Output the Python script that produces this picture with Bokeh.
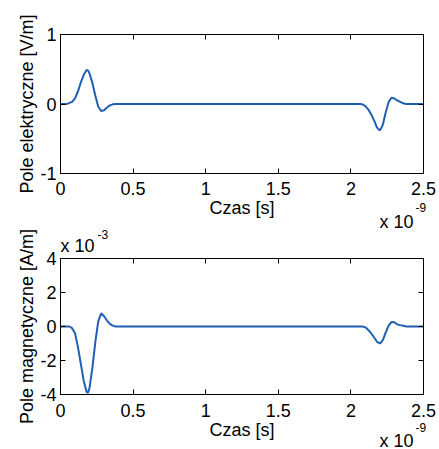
from bokeh.plotting import figure
from bokeh.models import LinearAxis, FixedTicker, Range1d, Label
from bokeh.layouts import column
from bokeh.embed import file_html
from bokeh.resources import INLINE

# time in units of 1e-9 s
t_e = [0.0, 0.03, 0.05, 0.08, 0.10, 0.12, 0.14, 0.16, 0.18, 0.19, 0.20, 0.22, 0.24, 0.26,
       0.28, 0.30, 0.32, 0.34, 0.36, 0.38, 1.0, 1.5, 2.06, 2.08, 2.10, 2.12, 2.14, 2.16,
       2.18, 2.20, 2.22, 2.24, 2.26, 2.28, 2.30, 2.32, 2.34, 2.36, 2.38, 2.5]
# electric field, V/m
e_field = [0.0, 0.0, 0.005, 0.03, 0.08, 0.18, 0.31, 0.42, 0.49, 0.48, 0.44, 0.30, 0.12, -0.04,
           -0.10, -0.09, -0.05, -0.02, -0.005, 0.0, 0.0, 0.0, 0.0, -0.005, -0.03, -0.08, -0.15, -0.24,
           -0.34, -0.38, -0.30, -0.12, 0.03, 0.09, 0.08, 0.05, 0.03, 0.01, 0.0, 0.0]

t_h = [0.0, 0.06, 0.08, 0.10, 0.12, 0.14, 0.16, 0.18, 0.19, 0.20, 0.22, 0.24, 0.26, 0.28,
       0.30, 0.32, 0.34, 0.36, 0.38, 1.0, 1.5, 2.08, 2.10, 2.12, 2.14, 2.16, 2.18, 2.20,
       2.22, 2.24, 2.26, 2.28, 2.30, 2.32, 2.34, 2.36, 2.38, 2.5]
# magnetic field, units of 1e-3 A/m
h_field = [0.0, 0.0, -0.1, -0.4, -1.2, -2.2, -3.2, -3.85, -3.9, -3.6, -2.4, -0.9, 0.3, 0.78,
           0.6, 0.35, 0.15, 0.05, 0.0, 0.0, 0.0, 0.0, -0.05, -0.2, -0.4, -0.65, -0.9, -1.0,
           -0.8, -0.35, 0.05, 0.27, 0.25, 0.12, 0.08, 0.05, 0.0, 0.0]

x_ticks = [0, 0.5, 1, 1.5, 2, 2.5]
x_tick_labels = ["0", "0.5", "1", "1.5", "2", "2.5"]
e_ticks = [-1, 0, 1]
e_tick_labels = ["-1", "0", "1"]
h_ticks = [-4, -2, 0, 2, 4]
h_tick_labels = ["-4", "-2", "0", "2", "4"]

FONT = "Liberation Sans"
LINE = "#1f5fb4"


def style_axis(ax, ticks, labels=None, show_labels=True):
    ax.ticker = FixedTicker(ticks=ticks)
    ax.major_tick_in = 5
    ax.major_tick_out = 0
    ax.minor_tick_line_color = None
    ax.axis_line_color = "black"
    ax.major_tick_line_color = "black"
    if show_labels:
        ax.major_label_overrides = {t: l for t, l in zip(ticks, labels)}
        ax.major_label_text_font = FONT
        ax.major_label_text_font_size = "18px"
        ax.major_label_text_color = "black"
        ax.axis_label_text_font = FONT
        ax.axis_label_text_font_size = "18px"
        ax.axis_label_text_font_style = "normal"
        ax.axis_label_text_color = "black"
    else:
        ax.major_label_text_font_size = "1px"
        ax.major_label_text_color = None
        ax.major_label_standoff = 0


def lab(text, x, y, dx, dy, size, align):
    return Label(x=x, y=y, x_offset=dx, y_offset=dy, text=text, text_align=align,
                 text_baseline="middle", text_font=FONT, text_font_size=size,
                 text_color="black")


def make_fig(height, mbt, mbb, yr, yticks, ylabels, ylabel, t, v, xstand, xlstand, **kw):
    p = figure(width=439, height=height, output_backend="svg", toolbar_location=None,
               x_range=Range1d(0, 2.5), y_range=Range1d(*yr),
               min_border_left=60, min_border_right=16,
               min_border_top=mbt, min_border_bottom=mbb, **kw)
    p.xgrid.visible = False
    p.ygrid.visible = False
    p.outline_line_color = "black"
    p.background_fill_color = "white"
    style_axis(p.xaxis[0], x_ticks, x_tick_labels)
    p.xaxis[0].axis_label = "Czas [s]"
    p.xaxis[0].major_label_standoff = xstand
    p.xaxis[0].axis_label_standoff = xlstand
    style_axis(p.yaxis[0], yticks, ylabels)
    p.yaxis[0].axis_label = ylabel
    p.yaxis[0].major_label_standoff = 4
    p.yaxis[0].axis_label_standoff = 0
    top = LinearAxis()
    style_axis(top, x_ticks, show_labels=False)
    p.add_layout(top, "above")
    right = LinearAxis()
    style_axis(right, yticks, show_labels=False)
    p.add_layout(right, "right")
    p.line(t, v, line_color=LINE, line_width=2)
    return p


p1 = make_fig(262, 34, 89, (-1, 1), e_ticks, e_tick_labels, "Pole elektryczne [V/m]",
              t_e, e_field, 8, 0)
p1.border_fill_color = "white"
p1.add_layout(lab("x 10", 2.5, -1, -10, -48, "18px", "right"), "below")
p1.add_layout(lab("-9", 2.5, -1, -8, -34, "12px", "left"), "right")

p2 = make_fig(244, 53, 55, (-4, 4), h_ticks, h_tick_labels, "Pole magnetyczne [A/m]",
              t_h, h_field, 9, 0, margin=(-57, 0, 0, 0))
p2.border_fill_color = None
p2.add_layout(lab("x 10", 0, 4, 0, 13, "18px", "left"), "above")
p2.add_layout(lab("-3", 0, 4, 37, 24, "12px", "left"), "left")
p2.add_layout(lab("x 10", 2.5, -4, -10, -46, "18px", "right"), "above")
p2.add_layout(lab("-9", 2.5, -4, -8, -33, "12px", "left"), "right")

layout = column(p1, p2, spacing=0)
open("out.html", "w").write(file_html(layout, INLINE))
